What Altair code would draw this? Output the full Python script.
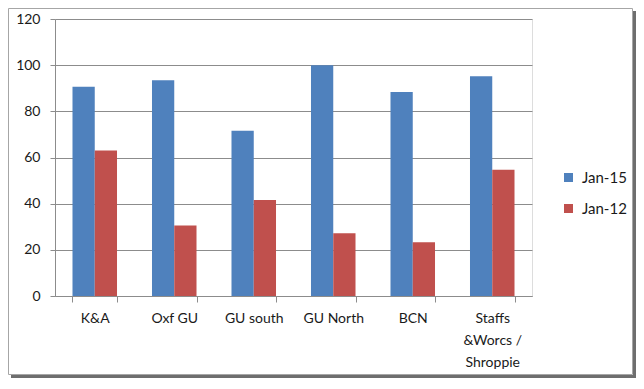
import altair as alt
import pandas as pd

categories = ["K&A", "Oxf GU", "GU south", "GU North", "BCN", "Staffs &Worcs / Shroppie"]
series = ["Jan-15", "Jan-12"]
jan15 = [90.7, 93.5, 71.6, 100.0, 88.4, 95.2]
jan12 = [63.0, 30.5, 41.6, 27.2, 23.3, 54.7]
y_ticks = [0, 20, 40, 60, 80, 100, 120]
colors = ["#4F81BD", "#C0504D"]

rows = []
for c, a, b in zip(categories, jan15, jan12):
    rows.append({"cat": c, "series": series[0], "value": a})
    rows.append({"cat": c, "series": series[1], "value": b})
df = pd.DataFrame(rows)

FONT = "Lato"
GRID = "#8c8c8c"

bars = alt.Chart(df).mark_bar().encode(
    x=alt.X("cat:N", sort=categories, title=None,
            scale=alt.Scale(paddingInner=0.44, paddingOuter=0.22),
            axis=alt.Axis(labelAngle=0, tickBand="extent", tickSize=6, tickColor=GRID,
                          domainColor=GRID, labelPadding=9, labelFont=FONT, labelFontSize=14,
                          labelColor="#1a1a1a", labelOverlap=False, labelLineHeight=22,
                          labelExpr="datum.label == 'Staffs &Worcs / Shroppie' ? ['Staffs', '&Worcs /', 'Shroppie'] : datum.label")),
    xOffset=alt.XOffset("series:N", sort=series, scale=alt.Scale(paddingInner=0, paddingOuter=0)),
    y=alt.Y("value:Q", title=None,
            scale=alt.Scale(domain=[0, 120], nice=False),
            axis=alt.Axis(values=y_ticks, grid=True, gridColor=GRID, gridWidth=1, gridOpacity=1,
                          tickSize=5, tickColor=GRID, domainColor=GRID, labelPadding=10,
                          labelFont=FONT, labelFontSize=14, labelColor="#1a1a1a")),
    color=alt.Color("series:N", sort=series, scale=alt.Scale(domain=series, range=colors),
                    legend=alt.Legend(title=None, orient="none", legendX=506, legendY=151,
                                      symbolType="square", symbolSize=81, symbolStrokeWidth=0,
                                      labelFont=FONT, labelFontSize=15, labelColor="#1a1a1a",
                                      labelOffset=6, rowPadding=15)),
)

frame_data = alt.Data(values=[{}])
shadow_r = alt.Chart(frame_data).mark_rect(color="#6e6e6e", clip=False).encode(
    x=alt.value(578), x2=alt.value(581), y=alt.value(-8), y2=alt.value(359))
shadow_b = alt.Chart(frame_data).mark_rect(color="#6e6e6e", clip=False).encode(
    x=alt.value(-44), x2=alt.value(581), y=alt.value(356), y2=alt.value(359))
frame = alt.Chart(frame_data).mark_rect(fill=None, stroke="#a6a6a6", strokeWidth=1, clip=False).encode(
    x=alt.value(-46.5), x2=alt.value(577.5), y=alt.value(-10.5), y2=alt.value(355.5))

chart = alt.layer(shadow_r, shadow_b, frame, bars).properties(
    width=477, height=277,
    autosize=alt.AutoSizeParams(type="none"),
    padding={"left": 47, "top": 11, "right": 104, "bottom": 82},
).configure_view(stroke=None).configure(background="white")

chart.save("out.html", embed_options={"renderer": "svg", "actions": False})
